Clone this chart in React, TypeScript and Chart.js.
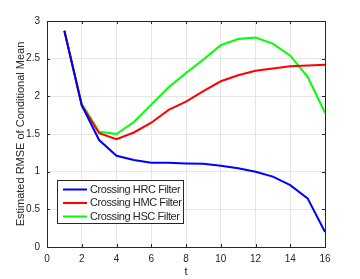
import React, { useEffect, useRef } from "react";
import { Chart, registerables } from "chart.js";
Chart.register(...registerables);

const tValues = [1, 2, 3, 4, 5, 6, 7, 8, 9, 10, 11, 12, 13, 14, 15, 16];
const hrcValues = [2.87, 1.88, 1.42, 1.21, 1.155, 1.12, 1.12, 1.11, 1.105, 1.08, 1.045, 1.0, 0.935, 0.82, 0.645, 0.2];
const hmcValues = [2.87, 1.88, 1.51, 1.43, 1.52, 1.65, 1.82, 1.93, 2.07, 2.2, 2.28, 2.34, 2.37, 2.4, 2.41, 2.42];
const hscValues = [2.87, 1.9, 1.53, 1.5, 1.66, 1.89, 2.12, 2.31, 2.49, 2.68, 2.76, 2.78, 2.7, 2.54, 2.26, 1.78];
const seriesLabels = ["Crossing HRC Filter", "Crossing HMC Filter", "Crossing HSC Filter"];
const seriesColors = ["#0000ff", "#ff0000", "#00ff00"];
const xTicks = [0, 2, 4, 6, 8, 10, 12, 14, 16];
const yTicks = [0, 0.5, 1, 1.5, 2, 2.5, 3];

const FONT = "'Liberation Sans', Arial, sans-serif";
const AXIS = "#262626";

const boxPlugin = {
  id: "boxPlugin",
  afterDraw(chart: any) {
    const { ctx, chartArea: a, scales } = chart;
    ctx.save();
    ctx.strokeStyle = AXIS;
    ctx.lineWidth = 1;
    ctx.strokeRect(Math.round(a.left) + 0.5, Math.round(a.top) + 0.5, Math.round(a.right - a.left), Math.round(a.bottom - a.top));
    const tl = 3;
    ctx.beginPath();
    for (const v of xTicks) {
      const x = Math.round(scales.x.getPixelForValue(v)) + 0.5;
      ctx.moveTo(x, a.bottom); ctx.lineTo(x, a.bottom - tl);
      ctx.moveTo(x, a.top); ctx.lineTo(x, a.top + tl);
    }
    for (const v of yTicks) {
      const y = Math.round(scales.y.getPixelForValue(v)) + 0.5;
      ctx.moveTo(a.left, y); ctx.lineTo(a.left + tl, y);
      ctx.moveTo(a.right, y); ctx.lineTo(a.right - tl, y);
    }
    ctx.stroke();

    // legend
    const lx = 57, ly = 180, lw = 126, lh = 43;
    ctx.fillStyle = "#ffffff";
    ctx.fillRect(lx, ly, lw, lh);
    ctx.strokeStyle = AXIS;
    ctx.strokeRect(lx + 0.5, ly + 0.5, lw, lh);
    ctx.font = `11px ${FONT}`;
    (ctx as any).letterSpacing = "-0.4px";
    ctx.textBaseline = "middle";
    chart.data.datasets.forEach((ds: any, i: number) => {
      const y = ly + 9.5 + i * 13.5;
      ctx.strokeStyle = ds.borderColor;
      ctx.lineWidth = 2;
      ctx.beginPath();
      ctx.moveTo(lx + 6, y); ctx.lineTo(lx + 30, y);
      ctx.stroke();
      ctx.fillStyle = AXIS;
      ctx.fillText(ds.label, lx + 33, y);
    });
    ctx.restore();
  },
};

export default function App() {
  const ref = useRef<HTMLCanvasElement>(null);
  useEffect(() => {
    document.body.style.margin = "0";
    const chart = new Chart(ref.current!, {
      type: "line",
      data: {
        datasets: [hrcValues, hmcValues, hscValues].map((vals, i) => ({
          label: seriesLabels[i],
          data: vals.map((v, j) => ({ x: tValues[j], y: v })),
          borderColor: seriesColors[i],
          backgroundColor: seriesColors[i],
          borderWidth: 2,
          pointRadius: 0,
          tension: 0,
        })),
      },
      options: {
        animation: false,
        responsive: false,
        layout: { padding: { top: 21, right: 35, left: 0, bottom: 0 } },
        plugins: { legend: { display: false }, tooltip: { enabled: false } },
        scales: {
          x: {
            type: "linear",
            min: 0,
            max: 16,
            afterBuildTicks: (s: any) => { s.ticks = xTicks.map((v) => ({ value: v })); },
            afterFit: (s: any) => { s.height = 32; },
            grid: { color: "#e6e6e6", drawTicks: false },
            border: { display: false },
            ticks: { color: AXIS, font: { family: FONT, size: 10 }, padding: 6, maxRotation: 0, callback: (v: any) => String(v) },
            title: { display: true, text: "t", color: AXIS, font: { family: FONT, size: 11 }, padding: { top: 1, bottom: 0 } },
          },
          y: {
            type: "linear",
            min: 0,
            max: 3,
            afterBuildTicks: (s: any) => { s.ticks = yTicks.map((v) => ({ value: v })); },
            afterFit: (s: any) => { s.width = 47; },
            grid: { color: "#e6e6e6", drawTicks: false },
            border: { display: false },
            ticks: { color: AXIS, font: { family: FONT, size: 10 }, padding: 7, callback: (v: any) => String(v) },
            title: { display: true, text: "Estimated RMSE of Conditional Mean", color: AXIS, font: { family: FONT, size: 11 }, padding: { top: 14, bottom: 0 } },
          },
        },
      },
      plugins: [boxPlugin],
    });
    return () => chart.destroy();
  }, []);
  return <canvas ref={ref} width={360} height={279} style={{ display: "block" }} />;
}
